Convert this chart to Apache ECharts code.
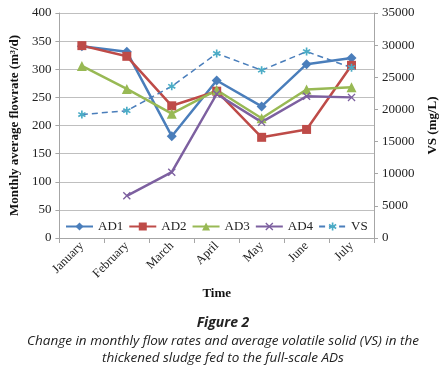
<!DOCTYPE html>
<html>
<head>
<meta charset="utf-8">
<script src="https://cdn.jsdelivr.net/npm/echarts@6/dist/echarts.min.js"></script>
<style>
  html, body { margin: 0; padding: 0; background: #fff; }
  #chart { width: 447px; height: 373px; }
</style>
</head>
<body>
<div id="chart"></div>
<script>
var months = ['January', 'February', 'March', 'April', 'May', 'June', 'July'];
var ad1 = [341, 331, 181, 280, 234, 309, 320];
var ad2 = [342, 323, 235, 261, 179, 193, 307];
var ad3 = [306, 265, 221, 263, 213, 264, 268];
var ad4 = [null, 75, 117, 256, 206, 252, 250];
var vs = [19200, 19800, 23600, 28700, 26100, 29000, 26500];

var serif = '"Liberation Serif", "Times New Roman", serif';
var starPath = 'path://M4,0h2v3.3l2.8-1.6 1,1.7L7,5l2.8,1.6-1,1.7L6,6.7V10H4V6.7L1.2,8.3l-1-1.7L3,5 0.2,3.4l1-1.7L4,3.3z';
var crossPath = 'path://M0,1.2L1.2,0L5,3.8L8.8,0L10,1.2L6.2,5L10,8.8L8.8,10L5,6.2L1.2,10L0,8.8L3.8,5z';

var chart = echarts.init(document.getElementById('chart'));

function lineSeries (name, data, color, symbol, size) {
  return {
    name: name,
    type: 'line',
    data: data,
    symbol: symbol,
    symbolSize: size,
    lineStyle: { color: color, width: 2.5 },
    itemStyle: { color: color },
    animation: false
  };
}

var option = {
  backgroundColor: '#fff',
  grid: { left: 52, right: 71, top: 13, height: 225 },
  legend: {
    top: 218,
    left: 62,
    itemGap: 5,
    itemWidth: 27,
    itemHeight: 10,
    backgroundColor: '#fff',
    padding: [2, 3],
    textStyle: { fontFamily: serif, fontSize: 13, color: '#222' },
    data: ['AD1', 'AD2', 'AD3', 'AD4', 'VS']
  },
  xAxis: {
    type: 'category',
    data: months,
    axisLine: { lineStyle: { color: '#a6a6a6' } },
    axisTick: { show: true, length: 5, lineStyle: { color: '#a6a6a6' } },
    axisLabel: { rotate: 45, fontFamily: serif, fontSize: 12.5, color: '#222', margin: 6 },
    name: 'Time',
    nameLocation: 'middle',
    nameGap: 48,
    nameTextStyle: { fontFamily: serif, fontSize: 13, fontWeight: 'bold', color: '#111' }
  },
  yAxis: [{
    type: 'value',
    min: 0,
    max: 400,
    interval: 50,
    axisLine: { show: true, lineStyle: { color: '#a6a6a6' } },
    axisTick: { show: true, length: 4, lineStyle: { color: '#a6a6a6' } },
    splitLine: { lineStyle: { color: '#bfbfbf', width: 1 } },
    axisLabel: { fontFamily: serif, fontSize: 13, color: '#222', margin: 8 },
    name: 'Monthly average flowrate (m³/d)',
    nameLocation: 'middle',
    nameGap: 35,
    nameTextStyle: { fontFamily: serif, fontSize: 13, fontWeight: 'bold', color: '#111' }
  }, {
    type: 'value',
    min: 0,
    max: 35000,
    interval: 5000,
    position: 'right',
    axisLine: { show: true, lineStyle: { color: '#a6a6a6' } },
    axisTick: { show: true, length: 4, lineStyle: { color: '#a6a6a6' } },
    splitLine: { show: false },
    axisLabel: {
      fontFamily: serif, fontSize: 13, color: '#222', margin: 8,
      formatter: function (v) { return String(v); }
    },
    name: 'VS (mg/L)',
    nameLocation: 'middle',
    nameGap: 52,
    nameRotate: 90,
    nameTextStyle: { fontFamily: serif, fontSize: 13, fontWeight: 'bold', color: '#111' }
  }],
  series: [
    lineSeries('AD1', ad1, '#4a7ebb', 'diamond', 10),
    lineSeries('AD2', ad2, '#be4b48', 'rect', 9),
    lineSeries('AD3', ad3, '#98b954', 'triangle', 10),
    lineSeries('AD4', ad4, '#7d60a0', crossPath, 8),
    {
      name: 'VS',
      type: 'line',
      yAxisIndex: 1,
      data: vs,
      symbol: starPath,
      symbolSize: 8,
      lineStyle: { color: '#4a7ebb', width: 1.5, type: [6, 4] },
      itemStyle: { color: '#4bacc6' },
      animation: false
    }
  ],
  graphic: [{
    type: 'text',
    x: 223,
    y: 316,
    style: { text: 'Figure 2', font: 'italic bold 14px "Open Sans", sans-serif', fill: '#222', align: 'center' }
  }, {
    type: 'text',
    x: 223,
    y: 333,
    style: {
      text: 'Change in monthly flow rates and average volatile solid (VS) in the\nthickened sludge fed to the full-scale ADs',
      font: 'italic 13.5px "Open Sans", sans-serif',
      fill: '#222',
      align: 'center',
      lineHeight: 17
    }
  }]
};

chart.setOption(option);
</script>
</body>
</html>
